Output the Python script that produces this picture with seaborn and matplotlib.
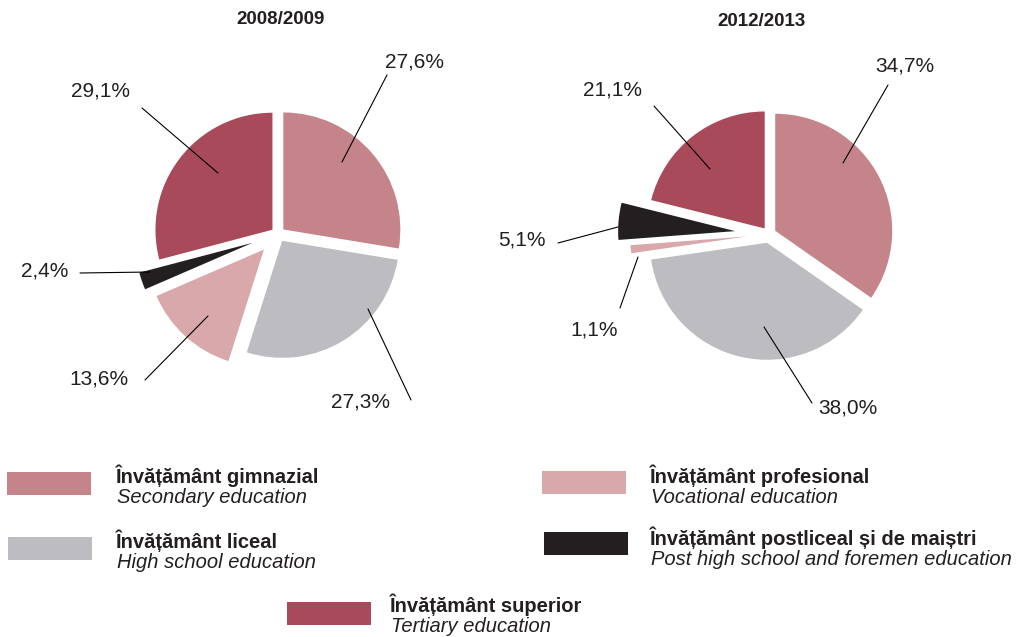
import matplotlib
matplotlib.use('Agg')
import matplotlib.pyplot as plt
import seaborn as sns

# 데이터 (Structura elevilor pe niveluri de educatie)
categories_ro = ['Învățământ gimnazial', 'Învățământ liceal', 'Învățământ profesional',
                 'Învățământ postliceal și de maiștri', 'Învățământ superior']
categories_en = ['Secondary education', 'High school education', 'Vocational education',
                 'Post high school and foremen education', 'Tertiary education']
years = ['2008/2009', '2012/2013']
share_2008 = [27.6, 27.3, 13.6, 2.4, 29.1]
share_2012 = [34.7, 38.0, 1.1, 5.1, 21.1]

sns.set_theme(style='white')
plt.rcParams['font.family'] = ['Liberation Sans', 'DejaVu Sans']
palette = sns.color_palette(['#C4848A', '#BDBDC1', '#D8A8AA', '#231F20', '#A84A5A'])
TXT = '#231F20'

W, H = 1023, 637
fig = plt.figure(figsize=(W / 100, H / 100), dpi=100)
ax = fig.add_axes([0, 0, 1, 1])


def Y(y):
    # 이미지 좌표(위->아래)를 축 좌표로 변환
    return H - y


# 파이 배치 (픽셀 단위)
pies = [
    dict(values=share_2008, center=(278, 234), radius=117, explode=[7, 8, 21, 27, 7],
         title_xy=(281, 19),
         labels=[((415, 62), (342, 162), (387, 75)),
                 ((360, 402), (368, 309), (411, 400)),
                 ((99, 379), (208, 316), (145, 380)),
                 ((45, 271), (150, 272), (80, 273)),
                 ((100, 91), (218, 173), (142, 108))]),
    dict(values=share_2012, center=(769, 234), radius=117, explode=[7, 9, 22, 34, 7],
         title_xy=(762, 21),
         labels=[((905, 66), (843, 163), (888, 85)),
                 ((848, 408), (764, 327), (812, 403)),
                 ((594, 330), (638, 257), (620, 308)),
                 ((522, 240), (618, 227), (558, 243)),
                 ((612, 90), (710, 169), (654, 106))]),
]

for year, p in zip(years, pies):
    cx, cy = p['center']
    ax.pie(p['values'], colors=palette, center=(cx, Y(cy)), radius=p['radius'],
           explode=p['explode'], startangle=90, counterclock=False,
           wedgeprops=dict(linewidth=0))
    ax.text(p['title_xy'][0], Y(p['title_xy'][1]), year, ha='center', va='center',
            fontsize=13.5, fontweight='bold', color=TXT)
    for val, (txy, inner, outer) in zip(p['values'], p['labels']):
        ax.annotate('', xy=(inner[0], Y(inner[1])), xytext=(outer[0], Y(outer[1])),
                    arrowprops=dict(arrowstyle='-', lw=0.8, color='black',
                                    shrinkA=0, shrinkB=0))
        ax.text(txy[0], Y(txy[1]), f'{val:.1f}%'.replace('.', ','), ha='center',
                va='center', fontsize=15, color=TXT)

# 범례 (수동 배치)
legend_pos = [((7, 472), (116, 483)),
              ((8, 537), (116, 548)),
              ((542, 471), (650, 483)),
              ((544, 532), (650, 545)),
              ((287, 602), (390, 612))]
for i, ((rx, ry), (tx, ty)) in enumerate(legend_pos):
    ax.add_patch(plt.Rectangle((rx, Y(ry + 23)), 84, 23, color=palette[i], lw=0))
    ax.text(tx, Y(ty), categories_ro[i], ha='left', va='baseline', fontsize=14.5,
            fontweight='bold', color=TXT)
    ax.text(tx + 1, Y(ty + 20), categories_en[i], ha='left', va='baseline', fontsize=14.5,
            fontstyle='italic', color=TXT)

ax.set_xlim(0, W)
ax.set_ylim(0, H)
ax.set_aspect('equal')
ax.axis('off')

fig.savefig('out.png', dpi=100)
